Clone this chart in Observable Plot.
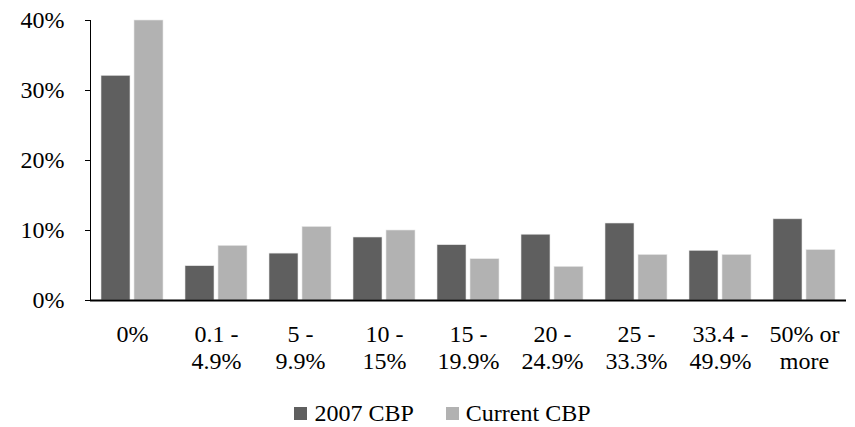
<!DOCTYPE html>
<html>
<head>
<meta charset="utf-8">
<script src="https://cdn.jsdelivr.net/npm/d3@7"></script>
<script src="https://cdn.jsdelivr.net/npm/@observablehq/plot@0.6"></script>
<style>
  html, body { margin: 0; padding: 0; background: #fff; }
  #chart { width: 855px; font-family: "Liberation Serif", "Times New Roman", Tinos, "DejaVu Serif", serif; }
  .legend { display: flex; justify-content: center; align-items: center; gap: 32px; font-size: 24px; line-height: 29px; color: #000; margin-top: 14px; padding-left: 30px; }
  .legend span.item { display: flex; align-items: center; gap: 7px; }
  .legend i { display: inline-block; width: 13px; height: 13px; }
</style>
</head>
<body>
<div id="chart"></div>
<script>
const categories = ["0%", "0.1 -\n4.9%", "5 -\n9.9%", "10 -\n15%", "15 -\n19.9%", "20 -\n24.9%", "25 -\n33.3%", "33.4 -\n49.9%", "50% or\nmore"];
const seriesNames = ["2007 CBP", "Current CBP"];
const values2007 = [0.321, 0.049, 0.067, 0.090, 0.079, 0.094, 0.110, 0.071, 0.116];
const valuesCurrent = [0.400, 0.078, 0.105, 0.100, 0.059, 0.048, 0.065, 0.065, 0.072];
const colors = ["#5f5f5f", "#b2b2b2"];
const yTicks = [0, 0.1, 0.2, 0.3, 0.4];

const data = [];
categories.forEach((c, i) => {
  data.push({cat: c, series: seriesNames[0], value: values2007[i]});
  data.push({cat: c, series: seriesNames[1], value: valuesCurrent[i]});
});

const fontFamily = '"Liberation Serif", "Times New Roman", Tinos, "DejaVu Serif", serif';

const plot = Plot.plot({
  width: 855,
  height: 385,
  marginLeft: 86,
  marginRight: 5,
  marginTop: 20,
  marginBottom: 85,
  style: {fontFamily, fontSize: "24px", color: "#000", background: "#fff"},
  fx: {domain: categories, padding: 0, axis: null, label: null},
  x: {domain: seriesNames, paddingInner: 0.132, paddingOuter: 0.315, axis: null},
  y: {domain: [0, 0.4], ticks: yTicks, tickFormat: d3.format(".0%"), tickSize: 5, tickPadding: 21, line: true, label: null},
  color: {domain: seriesNames, range: colors},
  marks: [
    Plot.barY(data, {fx: "cat", x: "series", y: "value", fill: "series", stroke: "#e6e6e6", strokeWidth: 0.6}),
    Plot.ruleY([0], {stroke: "#000", strokeWidth: 2}),
    Plot.text(categories, {fx: d => d, text: d => d, frameAnchor: "bottom", lineAnchor: "top", dy: 23, lineHeight: 1.1, fontSize: 24, fill: "#000"})
  ]
});

const chart = document.getElementById("chart");
chart.appendChild(plot);

const legend = document.createElement("div");
legend.className = "legend";
seriesNames.forEach((s, i) => {
  const item = document.createElement("span");
  item.className = "item";
  const sw = document.createElement("i");
  sw.style.background = colors[i];
  item.appendChild(sw);
  item.appendChild(document.createTextNode(s));
  legend.appendChild(item);
});
chart.appendChild(legend);
</script>
</body>
</html>
